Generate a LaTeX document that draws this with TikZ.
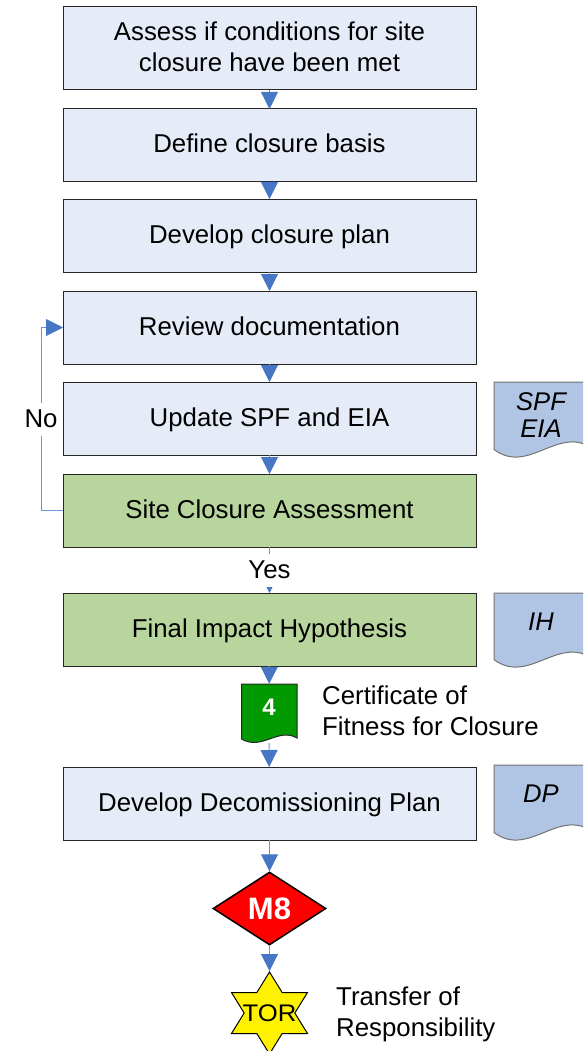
\documentclass[tikz,border=0pt]{standalone}
\usepackage{fontspec}
\setmainfont{Liberation Sans}
\usepackage{xcolor}
\usetikzlibrary{arrows.meta,positioning,shapes.geometric}
\definecolor{stepblue}{RGB}{230,236,247}
\definecolor{stepgreen}{RGB}{185,213,158}
\definecolor{docblue}{RGB}{176,196,227}
\definecolor{certgreen}{RGB}{0,153,0}
\definecolor{flowline}{RGB}{108,149,216}
\definecolor{flowhead}{RGB}{71,118,196}
\newcommand{\docsheet}[3]{%
  \draw[docpage] (#1,#2) -- ++(100,0) -- ++(0,#3*0.9)
    .. controls +(-35,-#3*0.35) and +(35,#3*0.35) .. ++(-100,0) -- cycle;
}
\tikzset{
    docpage/.style={draw=black!55, fill=docblue, line width=1pt},
    stepbox/.style={draw=black!85, fill=stepblue, line width=1pt, minimum width=413pt, minimum height=73pt, inner sep=0pt, outer sep=0pt, align=center, font=\fontsize{25.8}{31}\selectfont},
    onerow/.style={text height=19.5pt, text depth=4.5pt},
    checkbox/.style={stepbox, onerow, fill=stepgreen},
    doclabel/.style={align=center, inner sep=0pt, font=\fontsize{25.6}{27}\selectfont\itshape},
    sidelabel/.style={anchor=west, align=left, inner sep=0pt, font=\fontsize{25.8}{31}\selectfont},
    answer/.style={fill=white, inner sep=1pt, minimum height=33pt, font=\fontsize{25.8}{31}\selectfont},
    flow/.style={draw=flowline, line width=1pt, -{Triangle[width=17pt,length=17pt,color=flowhead]}}
}
\begin{document}
\begin{tikzpicture}[x=1pt, y=-1pt]
\useasboundingbox (0,0) rectangle (583,1051);
\clip (0,0) rectangle (583,1051);

\node[stepbox, minimum height=83pt, text height=50pt, text depth=3pt] (assess) at (269.5,48.5) {Assess if conditions for site\\closure have been met};
\node[stepbox, onerow, below=19pt of assess] (basis) {Define closure basis};
\node[stepbox, onerow, below=17pt of basis] (plan) {Develop closure plan};
\node[stepbox, onerow, below=19pt of plan] (review) {Review documentation};
\node[stepbox, onerow, below=18pt of review] (update) {Update SPF and EIA};
\node[checkbox, below=19pt of update] (site) {Site Closure Assessment};
\node[checkbox, below=46pt of site] (impact) {Final Impact Hypothesis};
\node[stepbox, onerow, below=101pt of impact] (decom) {Develop Decomissioning Plan};

\docsheet{494}{382}{75}
\docsheet{494}{593}{74}
\docsheet{494}{765}{75}
\node[doclabel] (spfdoc) at (541,415) {SPF\\EIA};
\node[doclabel] (ihdoc) at (541,622) {IH};
\node[doclabel] (dpdoc) at (541,794) {DP};

\draw[draw=black!85, fill=certgreen, line width=1pt] (241.5,684) -- (297,684) -- (297,738)
    .. controls (278,727) and (262,751) .. (241.5,739) -- cycle;
\node[minimum width=55pt, minimum height=47pt, inner sep=0pt, text=white, font=\fontsize{24}{24}\selectfont\bfseries] (cert) at (269,707.5) {4};
\coordinate (certend) at (269,743);
\node[sidelabel] (certtext) at (322,711) {Certificate of\\Fitness for Closure};

\node[diamond, draw=black, fill=red, line width=1.5pt, minimum width=113pt, minimum height=73pt, inner sep=0pt, text=white, font=\fontsize{31}{31}\selectfont\bfseries] (mile) at (269.5,908.5) {M8};
\node[star, star points=6, star point ratio=1.732, draw=black, fill=yellow, line width=1pt, minimum size=82pt, inner sep=0pt, xscale=1.07, font=\fontsize{24}{24}\selectfont] (tor) at (269.5,1013) {\makebox[0pt]{TOR}};
\node[sidelabel] (tortext) at (336,1014) {Transfer of\\Responsibility};

\draw[flow] (assess) -- (basis);
\draw[flow] (basis) -- (plan);
\draw[flow] (plan) -- (review);
\draw[flow] (review) -- (update);
\draw[flow] (update) -- (site);
\draw[flow] (site) -- node[answer] (yes) {Yes} (impact);
\draw[flow] (impact) -- (cert);
\draw[flow] (certend) -- (decom);
\draw[flow] (decom) -- (mile);
\draw[flow] (mile) -- (tor);
\draw[flow] (site.west) -- ++(-22,0) |- node[answer, pos=0.25] (no) {No} (review.west);
\end{tikzpicture}
\end{document}
